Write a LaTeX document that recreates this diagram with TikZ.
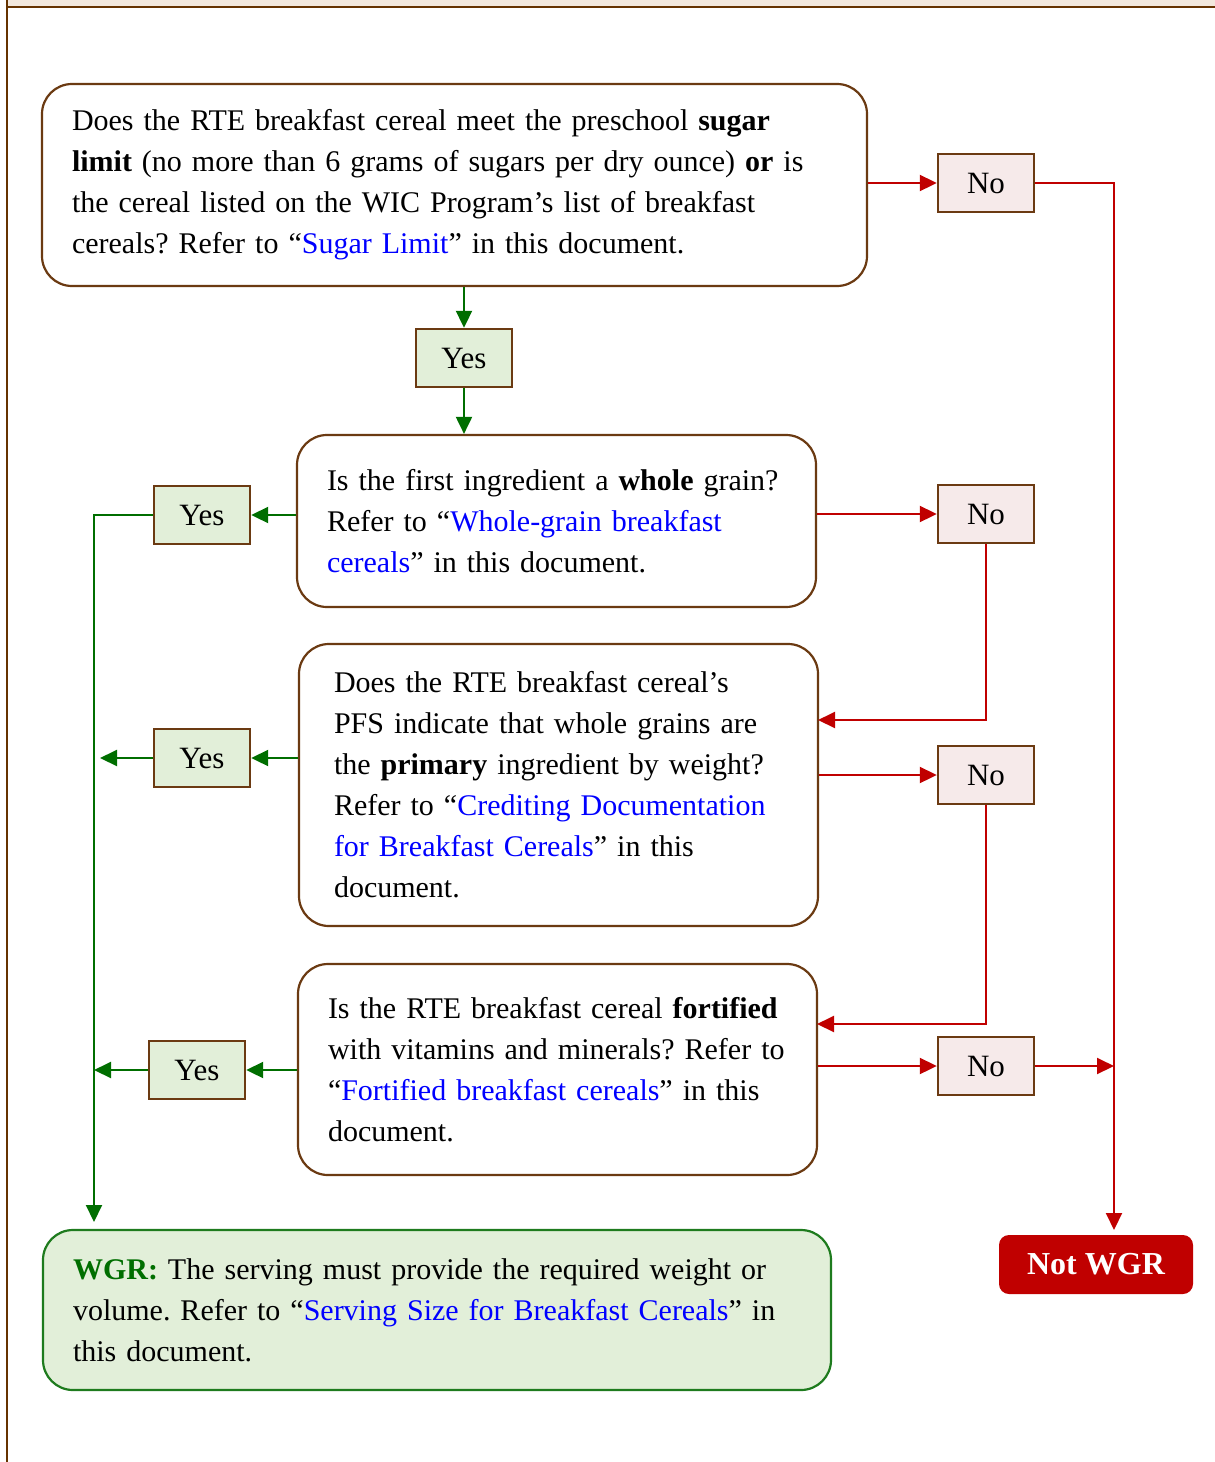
\documentclass[tikz,border=0pt]{standalone}
\usepackage{fontspec}
\setmainfont{Liberation Serif}
\usetikzlibrary{arrows.meta}
\frenchspacing

\definecolor{framebrown}{HTML}{663300}
\definecolor{boxbrown}{HTML}{6B3A12}
\definecolor{bandbeige}{HTML}{F3E8DD}
\definecolor{yesfill}{HTML}{E2EFD9}
\definecolor{nofill}{HTML}{F6EAEA}
\definecolor{nored}{HTML}{C00000}
\definecolor{yesgreen}{HTML}{006E00}
\definecolor{wgrgreen}{HTML}{1E7B1E}
\newcommand{\lnk}[1]{\textcolor{blue}{#1}}

\begin{document}
\begin{tikzpicture}[x=0.5pt,y=-0.5pt,
	question/.style={draw=boxbrown, line width=1.1pt, rounded corners=15pt, fill=white, align=left, inner xsep=15pt, inner ysep=0pt, font=\fontsize{15}{20.5}\selectfont},
	wgrbox/.style={question, draw=wgrgreen, fill=yesfill},
	yesbox/.style={draw=boxbrown, line width=1.2pt, fill=yesfill, minimum width=48pt, minimum height=29pt, inner sep=0pt, font=\fontsize{15.5}{18}\selectfont},
	nobox/.style={yesbox, fill=nofill},
	notwgr/.style={fill=nored, text=white, rounded corners=5pt, minimum width=97pt, minimum height=29.5pt, inner sep=0pt, font=\fontsize{16}{19}\selectfont\bfseries},
	yesline/.style={draw=yesgreen, line width=1pt, -{Triangle[length=8.5pt,width=8pt]}},
	noline/.style={draw=nored, line width=1pt, -{Triangle[length=8.5pt,width=8pt]}}]
	\useasboundingbox (0,0) rectangle (1215,1462);
	\fill[bandbeige] (7,0) rectangle (1215,7);
	\draw[framebrown, line width=1pt] (7,7) -- (1215,7);
	\draw[framebrown, line width=1pt] (7,0) -- (7,1462);

	\node[question, text width=382.5pt, minimum height=101pt] (q1) at (454.5,185)
		{Does the RTE breakfast cereal meet the preschool \textbf{sugar}\\
		\textbf{limit} (no more than 6 grams of sugars per dry ounce) \textbf{or} is\\
		the cereal listed on the WIC Program's list of breakfast\\
		cereals? Refer to ``\lnk{Sugar Limit}'' in this document.};
	\node[yesbox] (yes1) at (464,358) {Yes};
	\node[nobox] (no1) at (986,183) {No};

	\node[question, text width=229.5pt, minimum height=86pt] (q2) at (556.5,521)
		{Is the first ingredient a \textbf{whole} grain?\\
		Refer to ``\lnk{Whole-grain breakfast}\\
		\lnk{cereals}'' in this document.};
	\node[yesbox] (yes2) at (202,515) {Yes};
	\node[nobox] (no2) at (986,514) {No};

	\node[question, text width=224.5pt, inner xsep=17.5pt, minimum height=141pt] (q3) at (558.5,785)
		{Does the RTE breakfast cereal's\\
		PFS indicate that whole grains are\\
		the \textbf{primary} ingredient by weight?\\
		Refer to ``\lnk{Crediting Documentation}\\
		\lnk{for Breakfast Cereals}'' in this\\
		document.};
	\node[yesbox] (yes3) at (202,758) {Yes};
	\node[nobox] (no3) at (986,775) {No};

	\node[question, text width=229.5pt, minimum height=105.5pt] (q4) at (557.5,1069.5)
		{Is the RTE breakfast cereal \textbf{fortified}\\
		with vitamins and minerals? Refer to\\
		``\lnk{Fortified breakfast cereals}'' in this\\
		document.};
	\node[yesbox] (yes4) at (197,1070) {Yes};
	\node[nobox] (no4) at (986,1066) {No};

	\node[wgrbox, text width=364pt, minimum height=80pt] (wgr) at (437,1310)
		{\textcolor{yesgreen}{\textbf{WGR:}} The serving must provide the required weight or\\
		volume. Refer to ``\lnk{Serving Size for Breakfast Cereals}'' in\\
		this document.};
	\node[notwgr] (notwgr) at (1096,1264.5) {Not WGR};

	\coordinate (nrail) at (1114,1230);
	\coordinate (grail) at (94,1222);
	\coordinate (in3) at (818,720);
	\coordinate (in4) at (817,1024);

	\draw[yesline] (yes1.north |- q1.south) -- (yes1.north);
	\draw[yesline] (yes1.south) -- (yes1.south |- q2.north);
	\draw[noline] (no1.west -| q1.east) -- (no1.west);
	\draw[noline] (no1.east) -| (nrail);

	\draw[yesline] (yes2.east -| q2.west) -- (yes2.east);
	\draw[yesline] (yes2.west) -| (grail);
	\draw[noline] (no2.west -| q2.east) -- (no2.west);
	\draw[noline] (no2.south) |- (in3);

	\draw[yesline] (yes3.east -| q3.west) -- (yes3.east);
	\draw[yesline, shorten >=3pt] (yes3.west) -- (yes3.west -| grail);
	\draw[noline] (no3.west -| q3.east) -- (no3.west);
	\draw[noline] (no3.south) |- (in4);

	\draw[yesline] (yes4.east -| q4.west) -- (yes4.east);
	\draw[yesline] (yes4.west) -- (yes4.west -| grail);
	\draw[noline] (no4.west -| q4.east) -- (no4.west);
	\draw[noline] (no4.east) -- (no4.east -| nrail);
\end{tikzpicture}
\end{document}
